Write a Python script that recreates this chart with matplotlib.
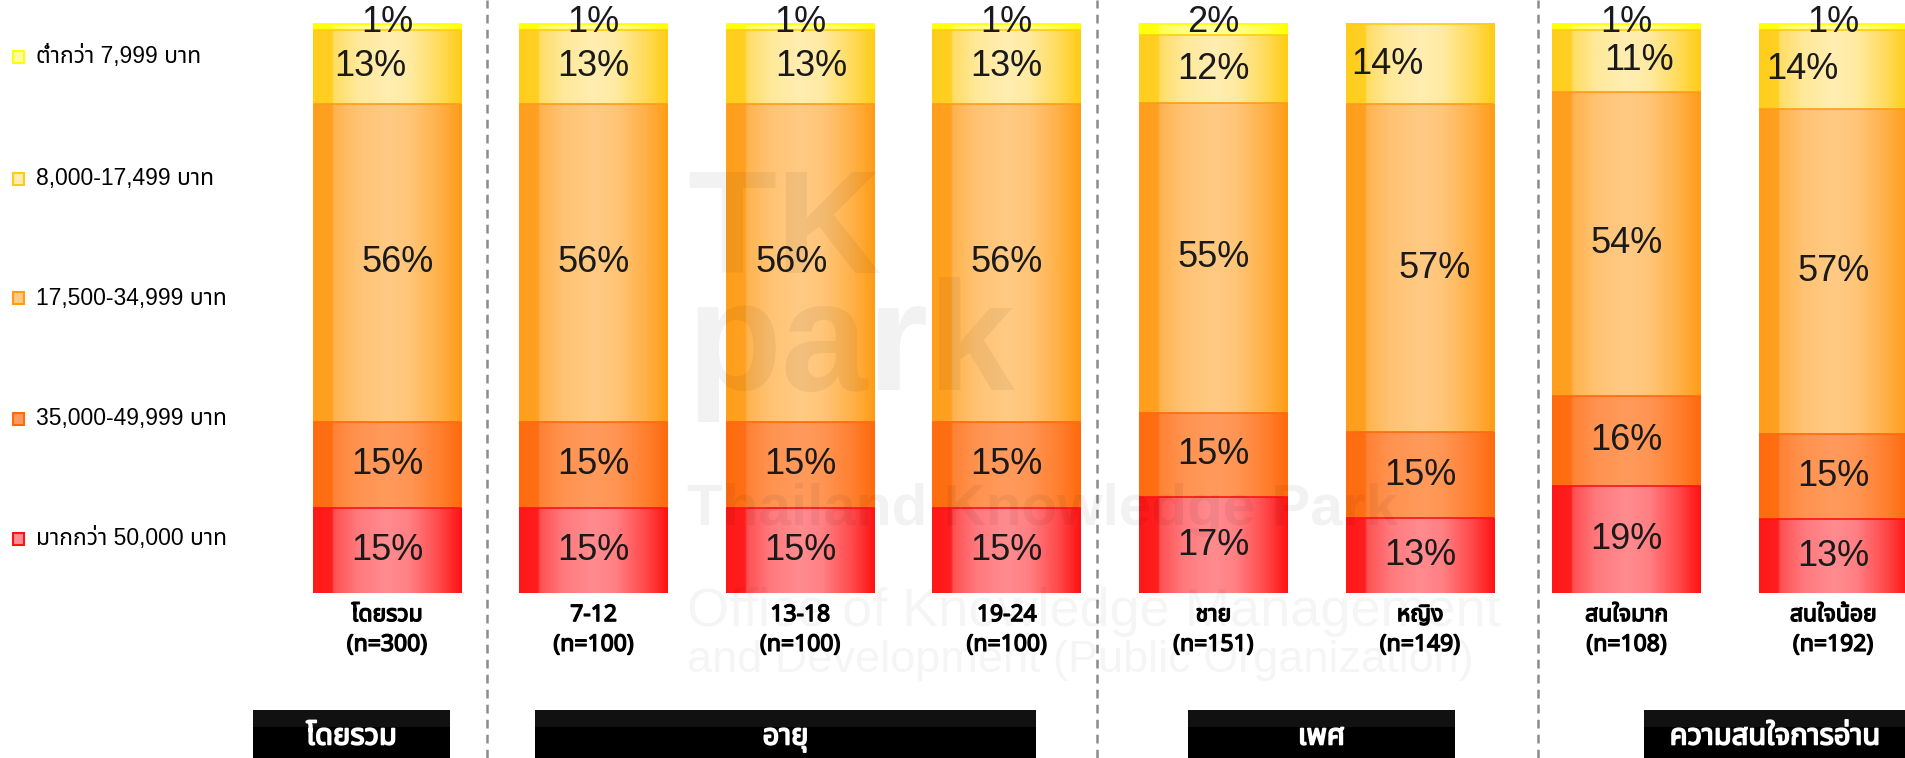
import matplotlib
matplotlib.use('Agg')
import matplotlib.pyplot as plt
import matplotlib.colors as mcolors
import matplotlib.patheffects as pe
from matplotlib import font_manager
from matplotlib.ft2font import FT2Font
from matplotlib.patches import Rectangle
import numpy as np

# ---- data ----
categories = ['โดยรวม\n(n=300)', '7-12\n(n=100)', '13-18\n(n=100)', '19-24\n(n=100)',
              'ชาย\n(n=151)', 'หญิง\n(n=149)', 'สนใจมาก\n(n=108)', 'สนใจน้อย\n(n=192)']
over_50k = [15, 15, 15, 15, 17, 13, 19, 13]
b35_50k = [15, 15, 15, 15, 15, 15, 16, 15]
b17_35k = [56, 56, 56, 56, 55, 57, 54, 57]
b8_17k = [13, 13, 13, 13, 12, 14, 11, 14]
under_8k = [1, 1, 1, 1, 2, 0, 1, 1]
series_names = ['มากกว่า 50,000 บาท', '35,000-49,999 บาท', '17,500-34,999 บาท',
                '8,000-17,499 บาท', 'ต่ำกว่า 7,999 บาท']
groups = ['โดยรวม', 'อายุ', 'เพศ', 'ความสนใจการอ่าน']

# ---- style ----
W, H = 1906, 758
EDGE = ['#FF1212', '#FF6A0C', '#FF9C16', '#FFCC14', '#FFFF00']
CENTER = ['#FF8C90', '#FF9A5C', '#FFCA84', '#FFEEB2', '#FFFF9A']
BAR_W = 0.721
BAR0_PX, STEP_PX = 387, 206.6
TOP_PX, BOT_PX = 24, 593
SEP_PX = [487, 1097, 1538]
BOX_PX = [(253, 450), (535, 1036), (1188, 1455), (1644, 1906)]
LEGEND_Y_PX = [539, 419, 298, 179, 57]
# small horizontal nudges of some value labels (bar, segment) -> bar units
NUDGE = {(0, 3): -0.08, (0, 2): 0.05, (2, 3): 0.053, (2, 2): -0.041,
         (5, 3): -0.16, (5, 2): 0.07, (6, 3): 0.06, (7, 3): -0.15}


def thai_family():
    names = {f.name for f in font_manager.fontManager.ttflist}
    for p in ['Tahoma', 'Noto Sans Thai', 'Noto Sans Thai UI', 'Loma', 'Garuda',
              'Sarabun', 'Norasi', 'Kinnari', 'Waree', 'Umpush']:
        if p in names:
            return p
    for f in font_manager.fontManager.ttflist:
        try:
            if 0x0E1A in FT2Font(f.fname).get_charmap():
                return f.name
        except Exception:
            continue
    return 'DejaVu Sans'


TH = thai_family()
THAI = [TH, 'DejaVu Sans']
LATIN = ['Liberation Sans', TH, 'DejaVu Sans']


def bold(color, w=1.3):
    return [pe.withStroke(linewidth=w, foreground=color)]


def xpx(px):
    return (px - BAR0_PX) / STEP_PX


def ypx(py):
    return (BOT_PX - py) * 100.0 / (BOT_PX - TOP_PX)


def gradient_row(edge, center, n=160):
    pos = [0, 0.13, 0.135, 0.3, 0.5, 0.65, 0.85, 1.0]
    t = [0.05, 0.1, 0.5, 0.85, 1.0, 0.9, 0.45, 0.0]
    tt = np.interp(np.linspace(0, 1, n), pos, t)[:, None]
    e = np.array(mcolors.to_rgb(edge))[None, :]
    c = np.array(mcolors.to_rgb(center))[None, :]
    return (e * (1 - tt) + c * tt)[None, :, :]


fig = plt.figure(figsize=(W / 100, H / 100), dpi=100)
fig.patch.set_facecolor('white')
ax = fig.add_axes([0, 0, 1, 1])
ax.set_axis_off()

series = [over_50k, b35_50k, b17_35k, b8_17k, under_8k]
vals = np.array(series, dtype=float)
shares = vals / vals.sum(axis=0) * 100

for i in range(len(categories)):
    bottom = 0.0
    for s in range(len(series)):
        h = shares[s, i]
        if h <= 0:
            continue
        ax.imshow(gradient_row(EDGE[s], CENTER[s]),
                  extent=[i - BAR_W / 2, i + BAR_W / 2, bottom, bottom + h],
                  aspect='auto', interpolation='bilinear', zorder=2)
        ax.plot([i - BAR_W / 2, i + BAR_W / 2], [bottom + h, bottom + h],
                color=EDGE[s], lw=1.2, zorder=3, solid_capstyle='butt')
        ly = 100.3 if s == len(series) - 1 else bottom + h / 2
        ax.text(i + NUDGE.get((i, s), 0), ly, f'{series[s][i]}%',
                ha='center', va='center', fontsize=26, color='#1a1a1a',
                family=LATIN, zorder=6)
        bottom += h
    ax.text(i, ypx(630), categories[i], ha='center', va='center',
            fontsize=16.5, fontweight='bold', family=THAI, linespacing=1.32,
            color='black', zorder=6, path_effects=bold('black', 1.0))

# group separators
for px in SEP_PX:
    ax.plot([xpx(px), xpx(px)], [ypx(H), ypx(0)], color='#8c8c8c', lw=1.8,
            dashes=(3.5, 2.5), zorder=1)

# group header boxes
for (x0, x1), g in zip(BOX_PX, groups):
    ax.add_patch(Rectangle((xpx(x0), ypx(H)), xpx(x1) - xpx(x0), ypx(710) - ypx(H),
                           facecolor='black', edgecolor='none', zorder=4))
    ax.add_patch(Rectangle((xpx(x0), ypx(727)), xpx(x1) - xpx(x0), ypx(710) - ypx(727),
                           facecolor='#111111', edgecolor='none', zorder=4))
    ax.text((xpx(x0) + xpx(x1)) / 2, ypx(737), g, ha='center', va='center',
            color='white', fontsize=21, fontweight='bold', family=THAI, zorder=5,
            path_effects=bold('white', 1.2))

# faint watermark
wm = dict(color='black', family=LATIN, zorder=5, va='baseline')
ax.text(xpx(687), ypx(273), 'TK', fontsize=105, fontweight='bold', alpha=0.05, **wm)
ax.text(xpx(687), ypx(390), 'park', fontsize=112, fontweight='bold', alpha=0.05, **wm)
ax.text(xpx(687), ypx(525), 'Thailand Knowledge Park', fontsize=42, fontweight='bold',
        alpha=0.05, **wm)
ax.text(xpx(687), ypx(626), 'Office of Knowledge Management', fontsize=39, alpha=0.04, **wm)
ax.text(xpx(687), ypx(672), 'and Development (Public Organization)', fontsize=32.5,
        alpha=0.04, **wm)

ax.set_xlim(xpx(0), xpx(W))
ax.set_ylim(ypx(H), ypx(0))

# legend
for s, py in enumerate(LEGEND_Y_PX):
    fig.patches.append(Rectangle((13 / W, 1 - (py + 6) / H), 11 / W, 12 / H,
                                 transform=fig.transFigure, facecolor=CENTER[s],
                                 edgecolor=EDGE[s], lw=1.5))
    fig.text(36 / W, 1 - py / H, series_names[s], ha='left', va='center',
             fontsize=16.5, family=LATIN, color='black')

fig.savefig('out.png', dpi=100)
